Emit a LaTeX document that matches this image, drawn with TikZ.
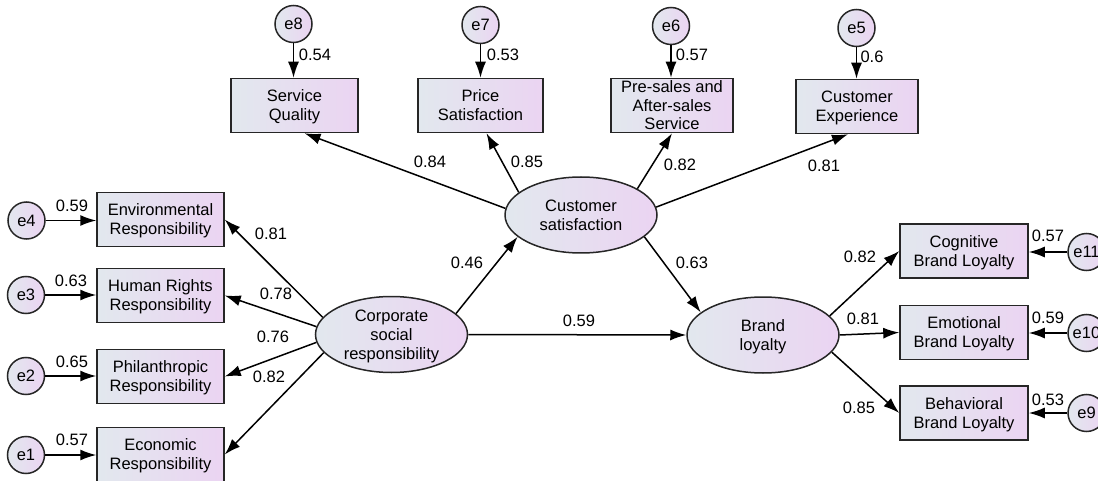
\documentclass[tikz,border=0pt]{standalone}
\usepackage{fontspec}
\setmainfont{Liberation Sans}
\usetikzlibrary{arrows.meta,shapes.geometric}
\definecolor{shadeL}{RGB}{226,232,238}
\definecolor{shadeR}{RGB}{235,212,242}
\tikzset{%
  >={Latex[width=11pt,length=16pt]},
  % Specifications for style of nodes:
        base/.style = {draw=black!85, line width=1.5pt, left color=shadeL,
                       right color=shadeR, inner sep=0pt, align=center,
                       text depth=0pt, font=\fontsize{16.5}{19}\selectfont},
   indicator/.style = {base, rectangle, minimum width=127pt, minimum height=54pt},
      latent/.style = {base, ellipse, minimum width=152pt, minimum height=76pt},
     errterm/.style = {base, circle, minimum size=37pt},
        coef/.style = {inner sep=1pt, font=\fontsize{16.5}{19}\selectfont},
        link/.style = {->, line width=1.5pt},
}

\begin{document}
\begin{tikzpicture}[x=1pt, y=-1pt]
  \useasboundingbox (0,0) rectangle (1098,481);
  \clip (0,0) rectangle (1098,481);
  % Latent variables
  \node (csr) [latent] at (391.5,334.5) {Corporate\\social\\responsibility};
  \node (cs)  [latent] at (581,215)     {Customer\\satisfaction};
  \node (bl)  [latent] at (763,335)     {Brand\\loyalty};
  % Observed variables of corporate social responsibility
  \node (env)  [indicator] at (160.5,219.5) {Environmental\\Responsibility};
  \node (hr)   [indicator] at (160.5,295.5) {Human Rights\\Responsibility};
  \node (phil) [indicator] at (160.5,376.5) {Philanthropic\\Responsibility};
  \node (eco)  [indicator] at (160.5,454.5) {Economic\\Responsibility};
  % Observed variables of customer satisfaction
  \node (sq)    [indicator] at (294.5,105.5) {Service\\Quality};
  \node (price) [indicator, minimum width=125pt] at (480.5,105.5) {Price\\Satisfaction};
  \node (sales) [indicator, minimum width=122pt, font=\fontsize{16.5}{18.5}\selectfont] at (672,105.5) {Pre-sales and\\After-sales\\Service};
  \node (cx)    [indicator, minimum width=122pt] at (857,106.5) {Customer\\Experience};
  % Observed variables of brand loyalty
  \node (cog) [indicator, minimum width=128pt] at (964,251)   {Cognitive\\Brand Loyalty};
  \node (emo) [indicator, minimum width=128pt] at (964,332.5) {Emotional\\Brand Loyalty};
  \node (beh) [indicator, minimum width=128pt] at (964,413)   {Behavioral\\Brand Loyalty};
  % Error terms
  \node (e4)  [errterm] at (26.5,220.5) {e4};
  \node (e3)  [errterm] at (26,295)     {e3};
  \node (e2)  [errterm] at (26,376)     {e2};
  \node (e1)  [errterm] at (26,455)     {e1};
  \node (e8)  [errterm] at (293.5,24)   {e8};
  \node (e7)  [errterm] at (480.5,25)   {e7};
  \node (e6)  [errterm] at (671,26)     {e6};
  \node (e5)  [errterm] at (856.5,28)   {e5};
  \node (e11) [errterm] at (1086.5,252) {e11};
  \node (e10) [errterm] at (1086.5,333) {e10};
  \node (e9)  [errterm] at (1086.5,413) {e9};
  % Paths between latent variables
  \draw[link] (csr.18) -- (cs.199);
  \draw[link] (csr.0)  -- (bl.180);
  \draw[link] (cs.341) -- (bl.160);
  % Loadings
  \draw[link] (csr.166) -- (env.east);
  \draw[link] (csr.174) -- (hr.east);
  \draw[link] (csr.186) -- (phil.east);
  \draw[link] (csr.195) -- (eco.east);
  \draw[link] (cs.175)  -- ([xshift=10pt]sq.south);
  \draw[link] (cs.160)  -- ([xshift=6pt]price.south);
  \draw[link] (cs.25)   -- (sales.south);
  \draw[link] (cs.6)    -- ([xshift=-9pt]cx.south);
  \draw[link] (bl.16)   -- (cog.west);
  \draw[link] (bl.0)    -- (emo.west);
  \draw[link] (bl.346)  -- (beh.west);
  % Error paths
  \draw[link] (e4)  -- (e4 -| env.west);
  \draw[link] (e3)  -- (e3 -| hr.west);
  \draw[link] (e2)  -- (e2 -| phil.west);
  \draw[link] (e1)  -- (e1 -| eco.west);
  \draw[link] (e8)  -- (e8 |- sq.north);
  \draw[link] (e7)  -- (e7 |- price.north);
  \draw[link] (e6)  -- (e6 |- sales.north);
  \draw[link] (e5)  -- (e5 |- cx.north);
  \draw[link] (e11) -- (e11 -| cog.east);
  \draw[link] (e10) -- (e10 -| emo.east);
  \draw[link] (e9)  -- (e9 -| beh.east);
  % Coefficients
  \node[coef] (wCsrCs) at (467,263) {0.46};
  \node[coef] (wCsrBl) at (579,321) {0.59};
  \node[coef] (wCsBl)  at (692,263) {0.63};
  \node[coef] (wEnv)  at (271,234) {0.81};
  \node[coef] (wHr)   at (276,294) {0.78};
  \node[coef] (wPhil) at (273,337) {0.76};
  \node[coef] (wEco)  at (269,377) {0.82};
  \node[coef] (wSq)    at (430,162) {0.84};
  \node[coef] (wPrice) at (527,162) {0.85};
  \node[coef] (wSales) at (680,165) {0.82};
  \node[coef] (wCx)    at (824,166) {0.81};
  \node[coef] (wCog) at (860,257) {0.82};
  \node[coef] (wEmo) at (863,319) {0.81};
  \node[coef] (wBeh) at (859,408) {0.85};
  \node[coef] (wE4) at (72,206) {0.59};
  \node[coef] (wE3) at (71,281) {0.63};
  \node[coef] (wE2) at (72,362) {0.65};
  \node[coef] (wE1) at (72,440) {0.57};
  \node[coef] (wE8) at (315,55) {0.54};
  \node[coef] (wE7) at (503,55) {0.53};
  \node[coef] (wE6) at (692,55) {0.57};
  \node[coef] (wE5) at (872,57) {0.6};
  \node[coef] (wE11) at (1048,236) {0.57};
  \node[coef] (wE10) at (1048,318) {0.59};
  \node[coef] (wE9)  at (1048,400) {0.53};
\end{tikzpicture}
\end{document}
